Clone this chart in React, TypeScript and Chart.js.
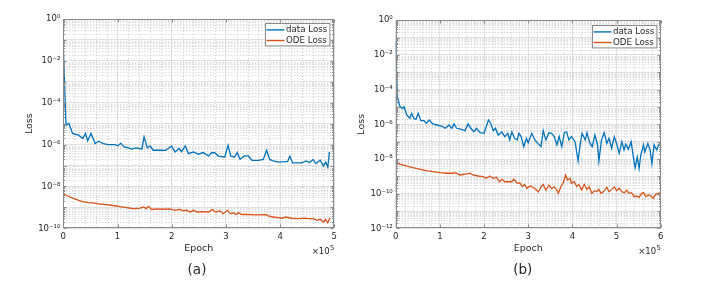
import React, { useEffect, useRef } from 'react';
import { Chart, registerables } from 'chart.js';

Chart.register(...registerables);

// ---------------- Data: panel (a) ----------------
// epochs in thousands, loss as log10 exponent
const epochsDataA = [0, 5, 10.5, 17, 28, 36, 41, 45, 51, 59, 65, 74, 83, 95, 101, 106, 112, 120, 126, 135, 145, 149, 155, 160, 166, 178, 188, 200, 206, 214, 218, 225, 231, 240, 249, 258, 268, 274, 280, 286, 298, 304, 309, 316, 321, 326, 334, 341, 348, 360, 369, 375, 381, 387, 394, 404, 414, 418, 423, 440, 448, 454, 461, 466, 474, 480, 484, 488, 491];
const logDataLossA = [-1.37, -5.07, -4.99, -5.47, -5.55, -5.71, -5.47, -5.82, -5.47, -5.95, -5.84, -5.95, -6.0, -6.0, -6.06, -5.93, -6.11, -6.16, -6.22, -6.16, -6.22, -5.63, -6.16, -6.06, -6.27, -6.27, -6.28, -6.08, -6.35, -6.19, -6.35, -6.06, -6.43, -6.35, -6.46, -6.38, -6.54, -6.38, -6.4, -6.55, -6.59, -6.03, -6.55, -6.59, -6.38, -6.7, -6.54, -6.54, -6.75, -6.75, -6.71, -6.27, -6.71, -6.78, -6.83, -6.83, -6.8, -6.55, -6.87, -6.87, -6.78, -6.86, -6.71, -6.91, -6.75, -7.03, -6.83, -7.07, -6.35];
const epochsOdeA = [0, 9, 22, 34, 46, 55, 68, 80, 92, 105, 117, 129, 142, 148, 153, 157, 163, 172, 185, 197, 206, 215, 221, 228, 234, 240, 247, 255, 268, 275, 281, 289, 295, 303, 308, 314, 320, 323, 329, 341, 354, 366, 374, 378, 387, 397, 404, 410, 421, 434, 446, 452, 461, 468, 474, 480, 484, 488, 492];
const logOdeLossA = [-8.37, -8.47, -8.61, -8.71, -8.77, -8.79, -8.84, -8.87, -8.91, -8.96, -9.01, -9.06, -9.04, -8.98, -9.06, -8.95, -9.1, -9.07, -9.09, -9.07, -9.14, -9.1, -9.17, -9.14, -9.22, -9.14, -9.22, -9.2, -9.22, -9.1, -9.22, -9.17, -9.3, -9.14, -9.3, -9.27, -9.34, -9.25, -9.34, -9.34, -9.36, -9.36, -9.34, -9.41, -9.46, -9.49, -9.52, -9.46, -9.52, -9.54, -9.51, -9.54, -9.54, -9.62, -9.57, -9.7, -9.58, -9.73, -9.51];

// ---------------- Data: panel (b) ----------------
const epochsDataB = [0, 3.6, 9.7, 16, 19, 25, 32, 36, 41, 46, 51, 57, 64, 69, 76, 84, 93, 104, 112, 121, 127, 132, 138, 149, 157, 164, 170, 177, 183, 191, 200, 210, 215, 221, 226, 232, 240, 247, 254, 258, 263, 269, 275, 279, 284, 290, 296, 300, 308, 315, 323, 329, 334, 340, 347, 353, 359, 365, 370, 376, 382, 387, 392, 398, 406, 413, 418, 422, 429, 433, 440, 445, 451, 457, 460, 466, 472, 478, 483, 489, 495, 500, 506, 512, 517, 521, 527, 533, 538, 542, 547, 551, 555, 561, 564, 571, 576, 580, 585, 591, 595, 600];
const logDataLossB = [-1.24, -4.41, -4.99, -5.08, -4.99, -5.46, -5.65, -5.37, -5.65, -5.71, -5.37, -5.79, -5.79, -5.94, -5.75, -5.98, -6.04, -6.1, -6.23, -6.04, -6.23, -5.98, -6.23, -6.29, -6.37, -5.98, -6.23, -6.43, -6.23, -6.48, -6.52, -5.75, -5.94, -6.37, -6.23, -6.62, -6.44, -6.71, -6.52, -6.9, -6.44, -6.8, -6.9, -6.52, -6.71, -7.29, -6.8, -7.07, -6.52, -6.9, -7.13, -7.29, -6.37, -6.9, -6.49, -6.52, -6.71, -7.19, -6.69, -7.29, -6.47, -6.44, -6.9, -6.71, -7.0, -8.1, -7.1, -6.52, -6.9, -6.49, -7.1, -7.29, -6.62, -7.19, -8.12, -6.9, -6.49, -7.1, -6.8, -7.38, -6.71, -7.1, -7.67, -7.0, -7.48, -7.15, -7.44, -7.0, -7.88, -8.5, -7.88, -8.55, -7.77, -7.19, -7.6, -7.11, -7.48, -8.26, -7.19, -7.48, -7.19, -7.15];
const epochsOdeB = [0, 9, 24, 39, 54, 69, 84, 100, 115, 130, 136, 145, 156, 168, 175, 186, 198, 205, 213, 220, 228, 235, 241, 247, 254, 262, 268, 275, 281, 287, 292, 297, 300, 306, 315, 323, 329, 334, 340, 347, 353, 359, 365, 368, 374, 379, 385, 389, 395, 398, 404, 410, 415, 421, 427, 433, 438, 444, 450, 455, 460, 465, 470, 478, 483, 489, 495, 500, 506, 512, 518, 523, 528, 534, 540, 545, 551, 557, 561, 566, 572, 578, 583, 589, 595, 600];
const logOdeLossB = [-8.15, -8.29, -8.4, -8.5, -8.58, -8.67, -8.73, -8.79, -8.82, -8.82, -8.79, -8.92, -8.88, -8.82, -8.92, -8.98, -9.02, -9.11, -8.98, -9.11, -9.05, -9.31, -9.17, -9.31, -9.31, -9.31, -9.17, -9.4, -9.37, -9.6, -9.47, -9.7, -9.62, -9.55, -9.7, -9.9, -9.6, -9.47, -9.79, -9.5, -9.69, -9.6, -9.79, -9.98, -9.6, -9.4, -8.92, -9.21, -9.11, -9.4, -9.31, -9.6, -9.47, -9.79, -9.47, -9.75, -9.6, -9.98, -9.83, -9.89, -9.75, -9.98, -9.89, -9.63, -9.89, -9.75, -9.6, -9.83, -9.69, -9.89, -9.94, -9.79, -9.98, -9.94, -10.17, -10.13, -10.21, -9.98, -9.94, -10.17, -10.07, -10.13, -10.27, -10.04, -9.98, -9.94];

// ---------------- Axis ticks ----------------
const xTicksA = [0, 1, 2, 3, 4, 5]; // ×10^5
const xTicksB = [0, 1, 2, 3, 4, 5, 6]; // ×10^5
const yDecadesA = [0, -1, -2, -3, -4, -5, -6, -7, -8, -9, -10];
const yDecadesB = [0, -1, -2, -3, -4, -5, -6, -7, -8, -9, -10, -11, -12];
const seriesLabels = ['data Loss', 'ODE Loss'];

const BLUE = '#0072BD';
const ORANGE = '#D95319';
const TEXT = '#262626';
const FRAME = '#8a8a8a';
const FONT = '"DejaVu Sans", sans-serif';

const SUP: Record<string, string> = {
  '-': '\u207B', '0': '\u2070', '1': '\u00B9', '2': '\u00B2', '3': '\u00B3', '4': '\u2074',
  '5': '\u2075', '6': '\u2076', '7': '\u2077', '8': '\u2078', '9': '\u2079',
};
const powLabel = (e: number) => '10' + String(e).split('').map((c) => SUP[c]).join('');

const matlabPlugin = {
  id: 'matlabAxes',
  beforeDatasetsDraw(chart: any, _a: any, opts: any) {
    const { ctx, chartArea: a, scales } = chart;
    const x = scales.x, y = scales.y;
    ctx.save();
    ctx.strokeStyle = '#cfcfcf';
    ctx.lineWidth = 1;
    ctx.setLineDash([1, 2]);
    ctx.beginPath();
    const decs: number[] = opts.decades;
    for (let i = 1; i < decs.length; i++) {
      const e = decs[i];
      for (let m = 2; m <= 9; m++) {
        const py = Math.round(y.getPixelForValue(m * Math.pow(10, e))) + 0.5;
        ctx.moveTo(a.left, py);
        ctx.lineTo(a.right, py);
      }
    }
    const xt: number[] = opts.xTicks;
    for (let i = 0; i < xt.length - 1; i++) {
      for (let j = 1; j <= 4; j++) {
        const px = Math.round(x.getPixelForValue((xt[i] + j * 0.2) * 1e5)) + 0.5;
        ctx.moveTo(px, a.top);
        ctx.lineTo(px, a.bottom);
      }
    }
    ctx.stroke();
    ctx.restore();
  },
  afterDatasetsDraw(chart: any, _a: any, opts: any) {
    const { ctx, chartArea: a, scales } = chart;
    const x = scales.x, y = scales.y;
    ctx.save();
    ctx.setLineDash([]);
    ctx.strokeStyle = FRAME;
    ctx.lineWidth = 1;
    const L = Math.round(a.left) + 0.5, R = Math.round(a.right) - 0.5;
    const T = Math.round(a.top) + 0.5, B = Math.round(a.bottom) - 0.5;
    ctx.strokeRect(L, T, R - L, B - T);
    ctx.beginPath();
    // inward ticks
    const decs: number[] = opts.decades;
    decs.forEach((e: number, i: number) => {
      const py = Math.round(y.getPixelForValue(Math.pow(10, e))) + 0.5;
      ctx.moveTo(L, py); ctx.lineTo(L + 3, py);
      ctx.moveTo(R, py); ctx.lineTo(R - 3, py);
      if (i > 0) {
        for (let m = 2; m <= 9; m++) {
          const pm = Math.round(y.getPixelForValue(m * Math.pow(10, e))) + 0.5;
          ctx.moveTo(L, pm); ctx.lineTo(L + 1.5, pm);
          ctx.moveTo(R, pm); ctx.lineTo(R - 1.5, pm);
        }
      }
    });
    (opts.xTicks as number[]).forEach((t) => {
      const px = Math.round(x.getPixelForValue(t * 1e5)) + 0.5;
      ctx.moveTo(px, B); ctx.lineTo(px, B - 3);
      ctx.moveTo(px, T); ctx.lineTo(px, T + 3);
    });
    ctx.stroke();

    // legend
    const ds = chart.data.datasets;
    ctx.font = '8.7px ' + FONT;
    const tw = Math.max(...ds.map((d: any) => ctx.measureText(d.label).width));
    const w = 1 + 18 + 1.5 + tw + 2.5;
    const h = 22.4;
    const lx = Math.round(a.right - 4.5 - w) + 0.5;
    const ly = Math.round(a.top + 4.3) + 0.5;
    ctx.fillStyle = '#ffffff';
    ctx.fillRect(lx, ly, w, h);
    ctx.strokeStyle = FRAME;
    ctx.strokeRect(lx, ly, w, h);
    ds.forEach((d: any, i: number) => {
      const cy = ly + 6.4 + i * 10.6;
      ctx.strokeStyle = d.borderColor;
      ctx.lineWidth = 1.4;
      ctx.beginPath();
      ctx.moveTo(lx + 1, cy);
      ctx.lineTo(lx + 19, cy);
      ctx.stroke();
      ctx.fillStyle = TEXT;
      ctx.textAlign = 'left';
      ctx.textBaseline = 'middle';
      ctx.fillText(d.label, lx + 20.5, cy + 0.3);
    });

    // x multiplier ×10^5
    ctx.fillStyle = TEXT;
    ctx.textBaseline = 'alphabetic';
    ctx.font = '6.8px ' + FONT;
    const w5 = ctx.measureText('5').width;
    ctx.textAlign = 'left';
    ctx.fillText('5', a.right - w5, 250.3);
    ctx.font = '8.5px ' + FONT;
    ctx.textAlign = 'right';
    ctx.fillText('\u00D710', a.right - w5 - 0.3, 253.6);

    // caption
    ctx.font = '13.5px ' + FONT;
    ctx.textAlign = 'center';
    ctx.textBaseline = 'middle';
    ctx.fillText(opts.caption, opts.captionX, 270.5);
    ctx.restore();
  },
};

type PanelProps = {
  left: number;
  width: number;
  epochsData: number[];
  logData: number[];
  epochsOde: number[];
  logOde: number[];
  xTicks: number[];
  decades: number[];
  pad: { left: number; right: number; top: number; bottom: number };
  yAxisWidth: number;
  caption: string;
  captionX: number;
};

function LossPanel(p: PanelProps) {
  const ref = useRef<HTMLCanvasElement>(null);
  useEffect(() => {
    const tickFont = { family: FONT, size: 8.5 };
    const titleFont = { family: FONT, size: 9.5 };
    const xMax = p.xTicks[p.xTicks.length - 1] * 1e5;
    const yMin = Math.pow(10, p.decades[p.decades.length - 1]);
    const chart = new Chart(ref.current as HTMLCanvasElement, {
      type: 'line',
      data: {
        datasets: [
          {
            label: seriesLabels[0],
            data: p.epochsData.map((e, i) => ({ x: e * 1000, y: Math.pow(10, p.logData[i]) })),
            borderColor: BLUE,
            backgroundColor: BLUE,
            borderWidth: 1.3,
            pointRadius: 0,
            tension: 0,
          },
          {
            label: seriesLabels[1],
            data: p.epochsOde.map((e, i) => ({ x: e * 1000, y: Math.pow(10, p.logOde[i]) })),
            borderColor: ORANGE,
            backgroundColor: ORANGE,
            borderWidth: 1.3,
            pointRadius: 0,
            tension: 0,
          },
        ],
      },
      options: {
        animation: false,
        responsive: false,
        devicePixelRatio: 1,
        events: [],
        layout: { padding: p.pad },
        plugins: {
          legend: { display: false },
          tooltip: { enabled: false },
          matlabAxes: { decades: p.decades, xTicks: p.xTicks, caption: p.caption, captionX: p.captionX },
        } as any,
        scales: {
          x: {
            type: 'linear',
            min: 0,
            max: xMax,
            afterBuildTicks: (s: any) => {
              s.ticks = p.xTicks.map((t) => ({ value: t * 1e5 }));
            },
            afterFit: (s: any) => {
              s.height = 29.6;
            },
            ticks: {
              autoSkip: false,
              maxRotation: 0,
              padding: 3,
              color: TEXT,
              font: tickFont,
              callback: (v: any) => String(Math.round(Number(v) / 1e5)),
            },
            grid: { color: '#e0e0e0', drawTicks: false, lineWidth: 1 },
            border: { display: false },
            title: { display: true, text: 'Epoch', color: TEXT, font: titleFont, padding: { top: 4, bottom: 4 } },
          },
          y: {
            type: 'logarithmic',
            min: yMin,
            max: 1,
            afterBuildTicks: (s: any) => {
              s.ticks = p.decades.map((e) => ({ value: Math.pow(10, e) }));
            },
            afterFit: (s: any) => {
              s.width = p.yAxisWidth;
            },
            ticks: {
              autoSkip: false,
              padding: 3,
              color: TEXT,
              font: tickFont,
              callback: (v: any) => {
                const e = Math.round(Math.log10(Number(v)));
                return e % 2 === 0 ? powLabel(e) : '';
              },
            },
            grid: { color: '#e0e0e0', drawTicks: false, lineWidth: 1 },
            border: { display: false },
            title: { display: true, text: 'Loss', color: TEXT, font: titleFont, padding: { top: 4, bottom: 4 } },
          },
        },
      } as any,
      plugins: [matlabPlugin as any],
    });
    return () => chart.destroy();
  }, []);
  return (
    <canvas
      ref={ref}
      width={p.width}
      height={294}
      style={{ position: 'absolute', left: p.left, top: 0, width: p.width, height: 294 }}
    />
  );
}

export default function App() {
  return (
    <div style={{ position: 'fixed', left: 0, top: 0, width: 718, height: 294, background: '#ffffff', overflow: 'hidden' }}>
      <LossPanel
        left={0}
        width={350}
        epochsData={epochsDataA}
        logData={logDataLossA}
        epochsOde={epochsOdeA}
        logOde={logOdeLossA}
        xTicks={xTicksA}
        decades={yDecadesA}
        pad={{ left: 20.2, right: 15.7, top: 19, bottom: 36.1 }}
        yAxisWidth={43.1}
        caption="(a)"
        captionX={197}
      />
      <LossPanel
        left={350}
        width={368}
        epochsData={epochsDataB}
        logData={logDataLossB}
        epochsOde={epochsOdeB}
        logOde={logOdeLossB}
        xTicks={xTicksB}
        decades={yDecadesB}
        pad={{ left: 2.1, right: 57.3, top: 20.2, bottom: 36.0 }}
        yAxisWidth={43.6}
        caption="(b)"
        captionX={172.7}
      />
    </div>
  );
}
